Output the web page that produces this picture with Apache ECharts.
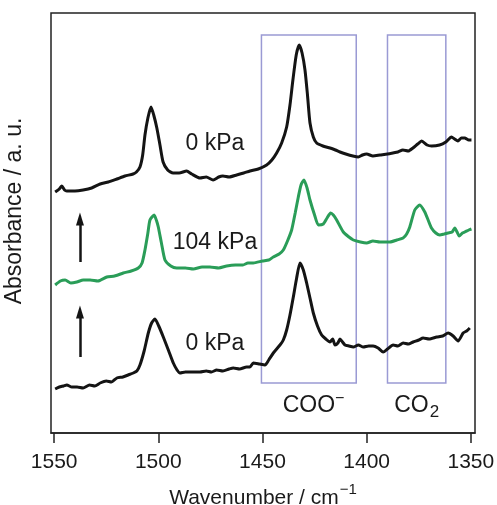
<!DOCTYPE html>
<html>
<head>
<meta charset="utf-8">
<script src="https://cdn.jsdelivr.net/npm/echarts@6/dist/echarts.min.js"></script>
<style>html,body{margin:0;padding:0;background:#fff}#c{width:497px;height:505px}</style>
</head>
<body>
<div id="c"></div>
<script>
// Wavenumber (cm-1) tick labels
const xTicks = [1550, 1500, 1450, 1400, 1350];

// Top spectrum: 0 kPa (after)
const topWn = [1549.5,1547.5,1546.3,1545,1543.9,1540,1536.1,1532,1527.9,1524,1519.9,1516,1512.1,1510.5,1508.8,1507.5,1506.4,1505,1503.5,1502.2,1500.7,1499.2,1497.7,1495.5,1492.9,1490,1486.4,1484,1480,1477,1473.7,1471,1469,1466,1462.4,1459,1456,1452,1448,1445.5,1443.2,1440.8,1438.4,1436.8,1435.4,1433.8,1432.4,1431,1429.6,1428.4,1427.2,1425.6,1424,1421,1417.6,1415,1412.8,1410,1406.6,1404,1402,1400,1397,1393.6,1390,1387.4,1385,1382.6,1380,1377.8,1375.5,1373.6,1371,1368.8,1365,1362,1359.3,1357.8,1356.2,1354.5,1352.9,1351,1349.7];
const topAbs = [2.41,2.44,2.47,2.43,2.42,2.42,2.43,2.45,2.49,2.51,2.54,2.57,2.59,2.61,2.66,2.78,2.98,3.15,3.26,3.18,3.05,2.88,2.71,2.63,2.60,2.60,2.62,2.59,2.55,2.56,2.53,2.56,2.57,2.56,2.58,2.60,2.62,2.64,2.68,2.73,2.80,2.90,3.06,3.28,3.53,3.78,3.88,3.80,3.63,3.38,3.10,2.96,2.90,2.87,2.85,2.83,2.81,2.79,2.77,2.76,2.78,2.79,2.77,2.78,2.79,2.80,2.81,2.83,2.82,2.85,2.89,2.92,2.88,2.87,2.88,2.91,2.96,2.94,2.92,2.95,2.95,2.93,2.93];

// Middle spectrum: 104 kPa
const midWn = [1549.5,1547,1544.7,1542,1539.1,1536,1532.7,1529,1524.7,1521,1516.8,1513,1509.6,1507.8,1506.4,1505,1504,1502,1500.8,1500,1498.5,1496.8,1494,1491.2,1487,1483.2,1479,1475.2,1471,1467.2,1463,1459.4,1457,1454.4,1450,1447,1444.8,1442,1440,1438,1436,1434.3,1432.8,1431.5,1430.1,1428.6,1427.2,1425,1423.2,1420.8,1419,1417.3,1416,1414.4,1411.2,1408.5,1406.4,1403,1400,1397,1393.6,1390,1388.8,1385.5,1382.5,1380.8,1379.3,1376.9,1374.5,1372.1,1370.5,1368.9,1366.8,1364.9,1362.8,1360.9,1359,1357.7,1356.6,1355.6,1354,1352.9,1351,1349.7];
const midAbs = [1.48,1.52,1.53,1.50,1.51,1.53,1.53,1.52,1.56,1.57,1.60,1.62,1.65,1.70,1.83,2.00,2.13,2.18,2.12,2.06,1.90,1.73,1.67,1.65,1.65,1.64,1.66,1.66,1.65,1.67,1.68,1.68,1.70,1.70,1.72,1.73,1.76,1.79,1.83,1.92,2.03,2.20,2.36,2.48,2.53,2.45,2.33,2.18,2.08,2.09,2.15,2.20,2.18,2.13,2.01,1.96,1.93,1.91,1.90,1.92,1.91,1.91,1.91,1.93,1.95,1.99,2.06,2.23,2.28,2.21,2.13,2.05,2.00,1.98,1.99,2.00,2.01,2.05,2.01,1.97,2.00,2.01,2.03,2.04];

// Bottom spectrum: 0 kPa (before)
const botWn = [1549.5,1547.5,1545.5,1543.9,1541.5,1539,1536.1,1533,1530.5,1527.9,1525,1522.5,1519.9,1517,1514.5,1512,1510.3,1508.8,1506.8,1504.8,1503.2,1501.6,1499.8,1497.6,1495,1492.8,1491,1489.6,1487,1484,1480,1477,1474.5,1472,1469,1466,1464,1461,1457.6,1456,1454.4,1451.5,1448.8,1447,1444.8,1441.6,1440,1438.4,1436.8,1435.2,1433.6,1432,1430.4,1428.8,1427.2,1425.6,1423.6,1421.6,1419.6,1417.6,1416.3,1415.2,1413.8,1412.8,1411.6,1410.4,1408.5,1406.4,1404,1401.6,1399,1396.9,1394.5,1392.1,1390,1387.3,1385,1382.5,1380,1377.7,1375,1372.9,1370,1366.4,1363.5,1360.9,1358.5,1356.1,1353.7,1352,1350.5];
const botAbs = [0.44,0.46,0.47,0.48,0.46,0.46,0.45,0.48,0.47,0.50,0.52,0.51,0.55,0.56,0.58,0.60,0.62,0.68,0.82,1.00,1.10,1.14,1.07,0.96,0.82,0.70,0.63,0.60,0.61,0.61,0.61,0.62,0.61,0.63,0.62,0.64,0.65,0.64,0.66,0.66,0.70,0.69,0.68,0.73,0.80,0.88,0.93,1.03,1.18,1.36,1.55,1.70,1.63,1.50,1.35,1.20,1.07,0.98,0.94,0.91,0.94,0.88,0.90,0.94,0.91,0.88,0.87,0.86,0.88,0.86,0.87,0.87,0.85,0.81,0.84,0.88,0.87,0.90,0.89,0.91,0.93,0.95,0.94,0.96,0.97,1.00,0.97,0.92,1.00,1.02,1.05];

// Highlighted bands (wavenumber ranges) and their vertical extent
const bandCOO = [1450.5, 1405];
const bandCO2 = [1390, 1362];
const bandY = [0.50, 3.98];

// Annotation positions (data coordinates)
const labelPos = { top: [1472.8, 2.89], mid: [1472.8, 1.90], bot: [1472.8, 0.89], coo: [1425.5, 0.27], co2: [1376, 0.27] };
const arrowWn = 1537.6;
const arrow1 = [1.71, 2.14];
const arrow2 = [0.76, 1.21];

const zip = (a, b) => a.map((v, i) => [v, b[i]]);
const black = '#141414';
const green = '#2a9d58';
const boxColor = '#9a9ad4';
const FS = 23;
const FST = 21;
const FONT = 'Liberation Sans, Arial, sans-serif';

const chart = echarts.init(document.getElementById('c'), null, { renderer: 'canvas' });

const textLabel = (pos, text, rich) => ({
  coord: pos,
  symbol: 'circle', symbolSize: 0,
  label: {
    show: true, position: 'inside', formatter: text,
    fontFamily: FONT, fontSize: FS, color: '#1a1a1a',
    rich: rich || {}
  }
});

chart.setOption({
  backgroundColor: '#ffffff',
  animation: false,
  grid: { left: 51, right: 22, top: 13, bottom: 72, show: true, borderColor: '#222', borderWidth: 1.5,
    backgroundColor: 'transparent', containLabel: false, outerBoundsMode: 'none' },
  xAxis: {
    type: 'value', inverse: true, min: 1348, max: 1551.5,
    axisLine: { show: true, lineStyle: { color: '#222', width: 1.5 } },
    axisTick: { show: true, inside: false, length: 10, lineStyle: { color: '#222', width: 1.5 }, customValues: xTicks },
    axisLabel: { show: true, margin: 19, fontSize: FST, color: '#1a1a1a', fontFamily: FONT, customValues: xTicks,
      formatter: v => String(v) },
    splitLine: { show: false },
    name: 'Wavenumber / cm{sup|−1}',
    nameLocation: 'middle', nameGap: 49,
    nameTextStyle: { fontSize: FST, color: '#1a1a1a', fontFamily: FONT,
      rich: { sup: { fontSize: 15, padding: [0, 0, 18, 1], fontFamily: FONT, color: '#1a1a1a' } } }
  },
  yAxis: {
    type: 'value', min: 0, max: 4.2,
    axisLine: { show: false }, axisTick: { show: false }, axisLabel: { show: false }, splitLine: { show: false },
    name: 'Absorbance / a. u.', nameLocation: 'middle', nameGap: 25, nameRotate: 90,
    nameTextStyle: { fontSize: FS, color: '#1a1a1a', fontFamily: FONT, padding: [0, 0, 0, 24] }
  },
  series: [
    {
      type: 'line', data: [], silent: true, z: 1,
      markArea: {
        silent: true,
        itemStyle: { color: 'rgba(0,0,0,0)', borderColor: boxColor, borderWidth: 1.5 },
        data: [
          [{ xAxis: bandCOO[0], yAxis: bandY[0] }, { xAxis: bandCOO[1], yAxis: bandY[1] }],
          [{ xAxis: bandCO2[0], yAxis: bandY[0] }, { xAxis: bandCO2[1], yAxis: bandY[1] }]
        ]
      },
      markPoint: {
        silent: true,
        data: [
          textLabel(labelPos.coo, 'COO{sup|−}', { sup: { fontSize: 16, padding: [0, 0, 14, 0], color: '#1a1a1a', fontFamily: FONT } }),
          textLabel(labelPos.co2, 'CO{sub|2}', { sub: { fontSize: 17, padding: [12, 0, 0, 1], color: '#1a1a1a', fontFamily: FONT } })
        ]
      },
      markLine: {
        silent: true, symbol: ['none', 'triangle'], symbolSize: [8, 13],
        lineStyle: { color: black, width: 2.5, type: 'solid' },
        label: { show: false },
        data: [
          [{ coord: [arrowWn, arrow1[0]] }, { coord: [arrowWn, arrow1[1]] }],
          [{ coord: [arrowWn, arrow2[0]] }, { coord: [arrowWn, arrow2[1]] }]
        ]
      }
    },
    {
      name: '0 kPa (top)', type: 'line', data: zip(topWn, topAbs), showSymbol: false, smooth: 0.2, z: 3,
      lineStyle: { color: black, width: 3 },
      markPoint: { silent: true, data: [textLabel(labelPos.top, '0 kPa')] }
    },
    {
      name: '104 kPa', type: 'line', data: zip(midWn, midAbs), showSymbol: false, smooth: 0.2, z: 3,
      lineStyle: { color: green, width: 3 },
      markPoint: { silent: true, data: [textLabel(labelPos.mid, '104 kPa')] }
    },
    {
      name: '0 kPa (bottom)', type: 'line', data: zip(botWn, botAbs), showSymbol: false, smooth: 0.2, z: 3,
      lineStyle: { color: black, width: 3 },
      markPoint: { silent: true, data: [textLabel(labelPos.bot, '0 kPa')] }
    }
  ]
});
</script>
</body>
</html>
